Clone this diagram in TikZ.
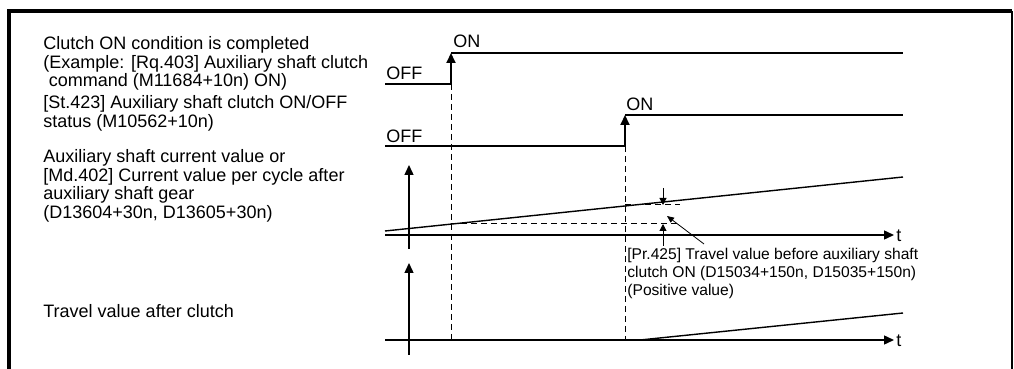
\documentclass[tikz,border=0pt]{standalone}
\usepackage{fontspec}
\setmainfont{Liberation Sans}
\usetikzlibrary{arrows.meta}

\tikzset{
  sig/.style={line width=1pt},
  stepup/.style={line width=1pt,-{Triangle[length=5pt,width=4.5pt]}},
  axis/.style={line width=0.7pt,-{Triangle[length=5pt,width=4.5pt]}},
  ramp/.style={line width=0.7pt},
  guide/.style={line width=0.5pt,dash pattern=on 3pt off 2pt},
  dim/.style={line width=0.5pt,-{Triangle[length=3.5pt,width=3.5pt]}},
  lead/.style={line width=0.4pt,-{Triangle[length=3.5pt,width=3pt]}},
  lbl/.style={anchor=north west,align=left}
}

\begin{document}
\begin{tikzpicture}[x=0.5pt,y=-0.5pt,every node/.style={font=\fontsize{9}{9.3}\selectfont,inner sep=0pt}]
  \useasboundingbox (0,0) rectangle (1014,369);
  % frame
  \draw[line width=2pt] (9,369)--(9,11)--(1012,11);
  \draw[line width=0.7pt] (1012,11)--(1012,369);

  % left labels
  \node[lbl] (cmdlbl) at (43,36) {Clutch ON condition is completed\\(Example: [Rq.403] Auxiliary shaft clutch\\\hspace*{0.3em}command (M11684+10n) ON)};
  \node[lbl] (stslbl) at (43,95) {[St.423] Auxiliary shaft clutch ON/OFF\\status (M10562+10n)};
  \node[lbl] (curlbl) at (43,149) {Auxiliary shaft current value or\\{}[Md.402] Current value per cycle after\\auxiliary shaft gear\\(D13604+30n, D13605+30n)};
  \node[lbl] (travlbl) at (43,304) {Travel value after clutch};

  % clutch command
  \node[anchor=west] (off1) at (386,73) {OFF};
  \node[anchor=west] (on1) at (453,41) {ON};
  \draw[sig] (385,84)--(451,84);
  \draw[stepup] (451,84)--(451,53);
  \draw[sig] (451,53)--(903,53);

  % clutch status
  \node[anchor=west] (off2) at (386,136) {OFF};
  \node[anchor=west] (on2) at (626,104) {ON};
  \draw[sig] (385,146)--(625,146);
  \draw[stepup] (625,146)--(625,115);
  \draw[sig] (625,115)--(903,115);

  \draw[guide] (451,84)--(451,340);
  \draw[guide] (625,146)--(625,340);

  % current value
  \draw[axis] (409,249)--(409,165);
  \draw[axis] (385,235)--(894,235);
  \node[anchor=west] (t1) at (896,236) {t};
  \draw[ramp] (385,231)--(903,177);
  \draw[guide] (451,224)--(680,224);
  \draw[guide] (625,205)--(680,205);
  \draw[dim] (663,188)--(663,205);
  \draw[dim] (663,246)--(663,224);
  \node[lbl,font=\fontsize{7.8}{9}\selectfont] (prlbl) at (627,248) {[Pr.425] Travel value before auxiliary shaft\\clutch ON (D15034+150n, D15035+150n)\\(Positive value)};
  \coordinate (ldr) at (704,244);
  \coordinate (gap) at (667,216);
  \draw[lead] (ldr)--(gap);

  % travel after clutch
  \draw[axis] (409,355)--(409,263);
  \draw[axis] (385,340)--(894,340);
  \node[anchor=west] (t2) at (896,341) {t};
  \draw[ramp] (640,340)--(903,313);
\end{tikzpicture}
\end{document}
